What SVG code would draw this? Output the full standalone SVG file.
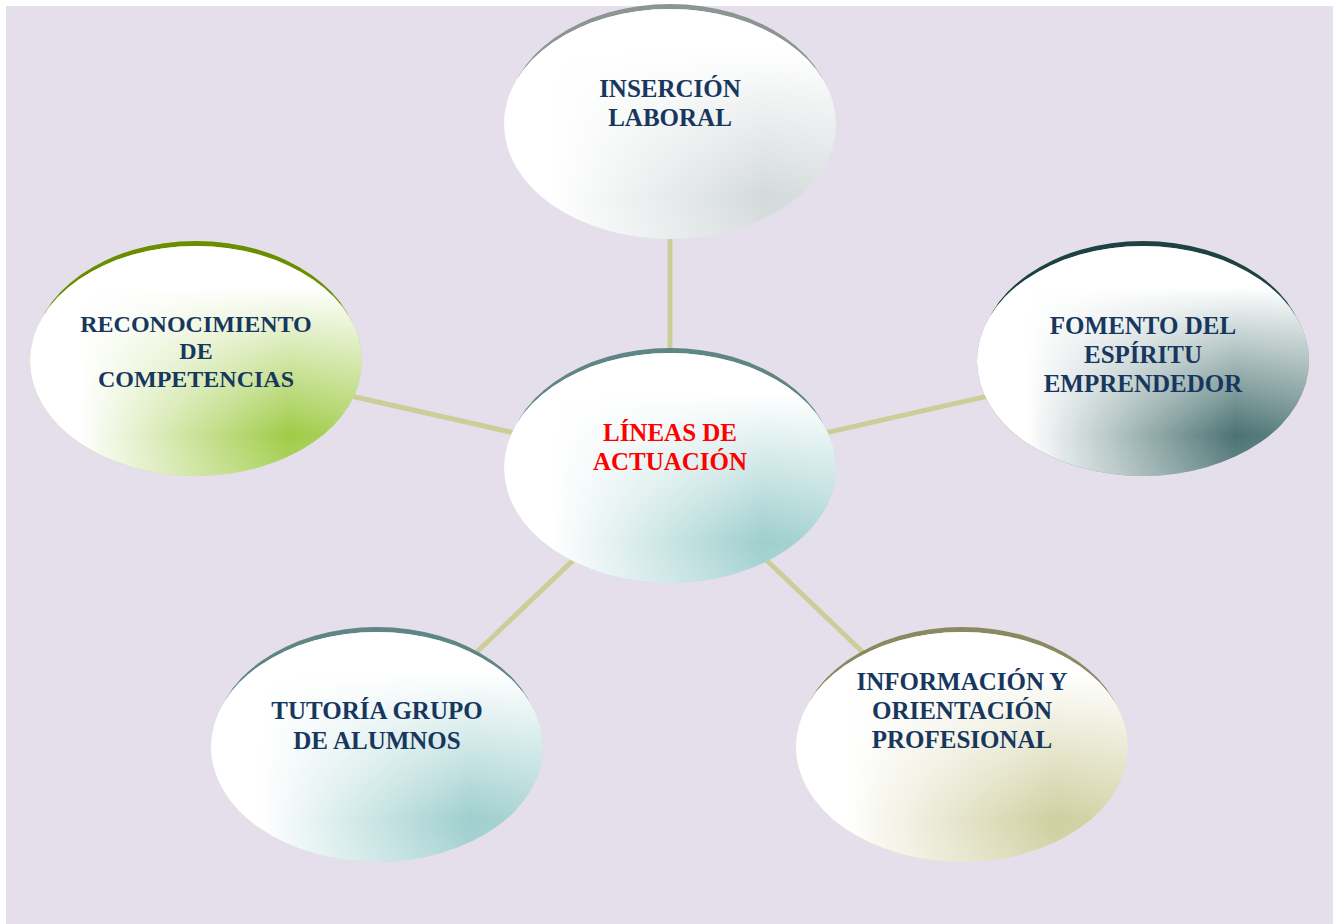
<svg xmlns="http://www.w3.org/2000/svg" width="1336" height="924" viewBox="0 0 1336 924">
<style>
.lbl{font-family:"Liberation Serif","Times New Roman",serif;font-weight:bold;font-size:25px;fill:#17375E;text-anchor:middle}
.small{font-size:24px}
.red{fill:#FF0000}
.conn{stroke:#CDCD98;stroke-width:5;fill:none}
.wh{fill:url(#wh)}
.wv{fill:url(#wv)}
</style>
<defs>
<linearGradient id="wh" x1="0" y1="0" x2="1" y2="0">
<stop offset="0" stop-color="#FFFFFF" stop-opacity="1"/>
<stop offset="0.15" stop-color="#FFFFFF" stop-opacity="1"/>
<stop offset="0.78" stop-color="#FFFFFF" stop-opacity="0"/>
<stop offset="1" stop-color="#FFFFFF" stop-opacity="0.15"/>
</linearGradient>
<linearGradient id="wv" x1="0" y1="0" x2="0" y2="1">
<stop offset="0" stop-color="#FFFFFF" stop-opacity="1"/>
<stop offset="0.18" stop-color="#FFFFFF" stop-opacity="1"/>
<stop offset="0.82" stop-color="#FFFFFF" stop-opacity="0"/>
<stop offset="1" stop-color="#FFFFFF" stop-opacity="0.15"/>
</linearGradient>
</defs>
<rect x="6" y="6" width="1327" height="918" fill="#E5DFEC"/>
<g id="connectors">
<line class="conn" x1="670" y1="124" x2="670" y2="468"/>
<line class="conn" x1="196" y1="361" x2="670" y2="468"/>
<line class="conn" x1="1143" y1="361" x2="670" y2="468"/>
<line class="conn" x1="377" y1="747" x2="670" y2="468"/>
<line class="conn" x1="962" y1="747" x2="670" y2="468"/>
</g>
<g id="insercion">
<ellipse cx="670" cy="119" rx="163" ry="115" fill="#8C9494"/>
<ellipse cx="670" cy="124" rx="166" ry="115" fill="#D4DADB"/>
<ellipse class="wh" cx="670" cy="124" rx="166" ry="115"/>
<ellipse class="wv" cx="670" cy="124" rx="166" ry="115"/>
<text class="lbl" x="670" y="97">INSERCIÓN</text>
<text class="lbl" x="670" y="126">LABORAL</text>
</g>
<g id="reconocimiento">
<ellipse cx="196" cy="356" rx="163" ry="115" fill="#6B8E00"/>
<ellipse cx="196" cy="361" rx="166" ry="115" fill="#A0CC48"/>
<ellipse class="wh" cx="196" cy="361" rx="166" ry="115"/>
<ellipse class="wv" cx="196" cy="361" rx="166" ry="115"/>
<text class="lbl small" x="196" y="332">RECONOCIMIENTO</text>
<text class="lbl small" x="196" y="359">DE</text>
<text class="lbl small" x="196" y="387">COMPETENCIAS</text>
</g>
<g id="fomento">
<ellipse cx="1143" cy="356" rx="163" ry="115" fill="#1E4242"/>
<ellipse cx="1143" cy="361" rx="166" ry="115" fill="#4C7373"/>
<ellipse class="wh" cx="1143" cy="361" rx="166" ry="115"/>
<ellipse class="wv" cx="1143" cy="361" rx="166" ry="115"/>
<text class="lbl" x="1143" y="334">FOMENTO DEL</text>
<text class="lbl" x="1143" y="363">ESPÍRITU</text>
<text class="lbl" x="1143" y="392">EMPRENDEDOR</text>
</g>
<g id="lineas">
<ellipse cx="670" cy="463" rx="163" ry="115" fill="#5F8585"/>
<ellipse cx="670" cy="468" rx="166" ry="115" fill="#9ECFCE"/>
<ellipse class="wh" cx="670" cy="468" rx="166" ry="115"/>
<ellipse class="wv" cx="670" cy="468" rx="166" ry="115"/>
<text class="lbl red" x="670" y="441">LÍNEAS DE</text>
<text class="lbl red" x="670" y="470">ACTUACIÓN</text>
</g>
<g id="tutoria">
<ellipse cx="377" cy="742" rx="163" ry="115" fill="#5F8585"/>
<ellipse cx="377" cy="747" rx="166" ry="115" fill="#9ECFCE"/>
<ellipse class="wh" cx="377" cy="747" rx="166" ry="115"/>
<ellipse class="wv" cx="377" cy="747" rx="166" ry="115"/>
<text class="lbl" x="377" y="719">TUTORÍA GRUPO</text>
<text class="lbl" x="377" y="749">DE ALUMNOS</text>
</g>
<g id="informacion">
<ellipse cx="962" cy="742" rx="163" ry="115" fill="#8A8A62"/>
<ellipse cx="962" cy="747" rx="166" ry="115" fill="#D0CFA0"/>
<ellipse class="wh" cx="962" cy="747" rx="166" ry="115"/>
<ellipse class="wv" cx="962" cy="747" rx="166" ry="115"/>
<text class="lbl" x="962" y="690">INFORMACIÓN Y</text>
<text class="lbl" x="962" y="719">ORIENTACIÓN</text>
<text class="lbl" x="962" y="748">PROFESIONAL</text>
</g>
</svg>
